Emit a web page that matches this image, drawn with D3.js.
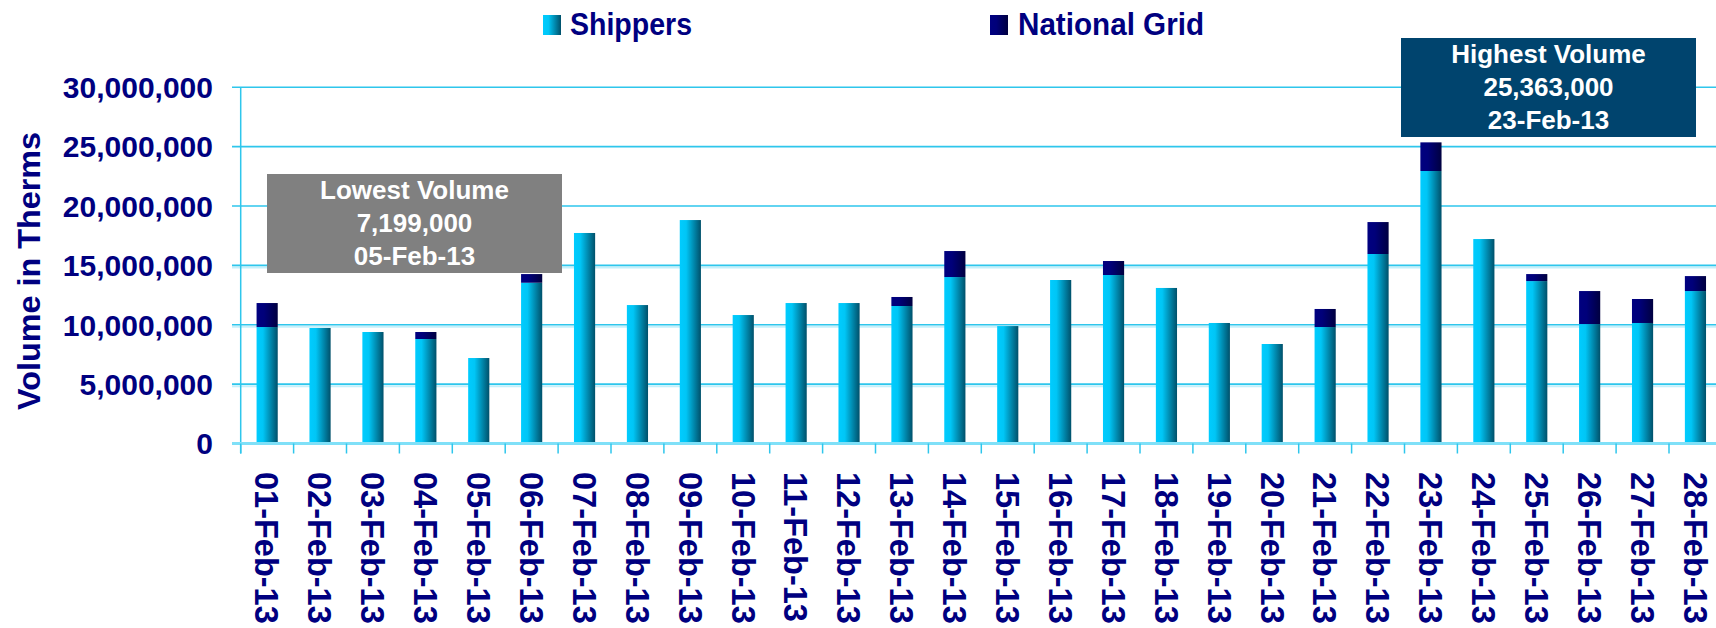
<!DOCTYPE html>
<html>
<head>
<meta charset="utf-8">
<script src="https://cdn.jsdelivr.net/npm/d3@7"></script>
<style>
  body { margin: 0; background: #fff; }
  svg { display: block; font-family: "Liberation Sans", Arial, sans-serif; font-weight: bold; }
</style>
</head>
<body>
<svg id="chart" width="1716" height="628"></svg>
<script>
// daily volumes, February 2013 (therms)
const dates = ["01-Feb-13","02-Feb-13","03-Feb-13","04-Feb-13","05-Feb-13","06-Feb-13","07-Feb-13",
  "08-Feb-13","09-Feb-13","10-Feb-13","11-Feb-13","12-Feb-13","13-Feb-13","14-Feb-13",
  "15-Feb-13","16-Feb-13","17-Feb-13","18-Feb-13","19-Feb-13","20-Feb-13","21-Feb-13",
  "22-Feb-13","23-Feb-13","24-Feb-13","25-Feb-13","26-Feb-13","27-Feb-13","28-Feb-13"];
const shippers = [9810000, 9730000, 9390000, 8800000, 7199000, 13540000, 17730000,
  11660000, 18820000, 10820000, 11830000, 11830000, 11580000, 14020000,
  9890000, 13770000, 14190000, 13100000, 10150000, 8380000, 9810000,
  15960000, 22950000, 17220000, 13680000, 10060000, 10150000, 12840000];
const nationalGrid = [2020000, 0, 0, 590000, 0, 730000, 0,
  0, 0, 0, 0, 0, 760000, 2190000,
  0, 0, 1180000, 0, 0, 0, 1520000,
  2690000, 2413000, 0, 590000, 2780000, 2020000, 1260000];
const yTicks = [0, 5000000, 10000000, 15000000, 20000000, 25000000, 30000000];
const seriesNames = ["Shippers", "National Grid"];

const svg = d3.select("#chart");
const navy = "#000080";

// gradients for the bars
const defs = svg.append("defs");
function grad(id, stops) {
  const g = defs.append("linearGradient").attr("id", id)
    .attr("x1", "0%").attr("x2", "100%").attr("y1", "0%").attr("y2", "0%");
  stops.forEach(s => g.append("stop").attr("offset", s[0]).attr("stop-color", s[1]));
}
grad("gShip", [["0%", "#00ccff"], ["30%", "#00c6f6"], ["100%", "#00506a"]]);
grad("gNat", [["0%", "#000080"], ["35%", "#00007a"], ["100%", "#000040"]]);

const left = 240.7, bandW = 52.9;
const x = d3.scaleBand().domain(dates)
  .range([left, left + bandW * dates.length])
  .paddingInner(0.6).paddingOuter(0.3);
const y = d3.scaleLinear().domain([0, 30000000]).range([443.5, 87.3]);

// gridlines
const grid = svg.append("g");
yTicks.forEach(t => {
  if (t === 0) return;
  grid.append("line").attr("x1", 232).attr("x2", 1716)
    .attr("y1", y(t) + 2).attr("y2", y(t) + 2)
    .attr("stroke", "#c4f0fb").attr("stroke-width", t <= 15000000 ? 2 : 0);
  grid.append("line").attr("x1", 232).attr("x2", 1716)
    .attr("y1", y(t)).attr("y2", y(t))
    .attr("stroke", "#2ec6ec").attr("stroke-width", 1.6);
});

// y tick labels
svg.append("g").selectAll("text").data(yTicks).enter().append("text")
  .attr("x", 213).attr("y", d => y(d)).attr("dy", "0.36em")
  .attr("text-anchor", "end").attr("font-size", 30).attr("fill", navy)
  .text(d => d3.format(",")(d));

// y title
svg.append("text")
  .attr("transform", "translate(28.5,271) rotate(-90)")
  .attr("text-anchor", "middle").attr("dy", "0.36em")
  .attr("font-size", 31).attr("fill", navy)
  .attr("textLength", 278).attr("lengthAdjust", "spacingAndGlyphs")
  .text("Volume in Therms");

// stacked bars
const rows = dates.map((d, i) => ({ date: d, "Shippers": shippers[i], "National Grid": nationalGrid[i] }));
const stack = d3.stack().keys(seriesNames)(rows);
const fills = { "Shippers": "url(#gShip)", "National Grid": "url(#gNat)" };

svg.append("g").selectAll("g").data(stack).enter().append("g")
  .attr("fill", d => fills[d.key])
  .selectAll("rect").data(d => d).enter().append("rect")
  .attr("x", d => x(d.data.date))
  .attr("width", x.bandwidth())
  .attr("y", d => y(d[1]))
  .attr("height", d => y(d[0]) - y(d[1]));

// axis lines + category ticks
svg.append("line").attr("x1", left).attr("x2", left)
  .attr("y1", y(30000000)).attr("y2", y(0) + 10)
  .attr("stroke", "#2ec6ec").attr("stroke-width", 1.5);
svg.append("line").attr("x1", 232).attr("x2", 1716)
  .attr("y1", y(0)).attr("y2", y(0))
  .attr("stroke", "#7fe0f8").attr("stroke-width", 3);
svg.append("g").selectAll("line").data(d3.range(dates.length + 1)).enter().append("line")
  .attr("x1", i => left + i * bandW).attr("x2", i => left + i * bandW)
  .attr("y1", y(0)).attr("y2", y(0) + 10)
  .attr("stroke", "#2ec6ec").attr("stroke-width", 1.5);

// x labels
svg.append("g").selectAll("text").data(dates).enter().append("text")
  .attr("transform", d => `translate(${x(d) + x.bandwidth() / 2},472) rotate(90)`)
  .attr("dy", "0.36em").attr("font-size", 32.5).attr("fill", navy)
  .text(d => d);

// legend
const legend = [
  { name: seriesNames[0], fill: "url(#gShip)", sx: 543, tx: 570, len: 122 },
  { name: seriesNames[1], fill: "url(#gNat)", sx: 990, tx: 1018, len: 186 }
];
legend.forEach(l => {
  svg.append("rect").attr("x", l.sx).attr("y", 15).attr("width", 18).attr("height", 20).attr("fill", l.fill);
  svg.append("text").attr("x", l.tx).attr("y", 35).attr("font-size", 31).attr("fill", navy)
    .attr("textLength", l.len).attr("lengthAdjust", "spacingAndGlyphs").text(l.name);
});

// annotation boxes
const totals = dates.map((d, i) => shippers[i] + nationalGrid[i]);
const hi = d3.maxIndex(totals), lo = d3.minIndex(totals);
function note(bx, by, w, h, color, lines) {
  const g = svg.append("g");
  g.append("rect").attr("x", bx).attr("y", by).attr("width", w).attr("height", h).attr("fill", color);
  g.selectAll("text").data(lines).enter().append("text")
    .attr("x", bx + w / 2).attr("y", (d, i) => by + 16 + i * 33).attr("dy", "0.36em")
    .attr("text-anchor", "middle").attr("font-size", 26).attr("fill", "#fff")
    .text(d => d);
}
note(267, 174, 295, 99, "#808080", ["Lowest Volume", d3.format(",")(totals[lo]), dates[lo]]);
note(1401, 38, 295, 99, "#00446e", ["Highest Volume", d3.format(",")(totals[hi]), dates[hi]]);
</script>
</body>
</html>
